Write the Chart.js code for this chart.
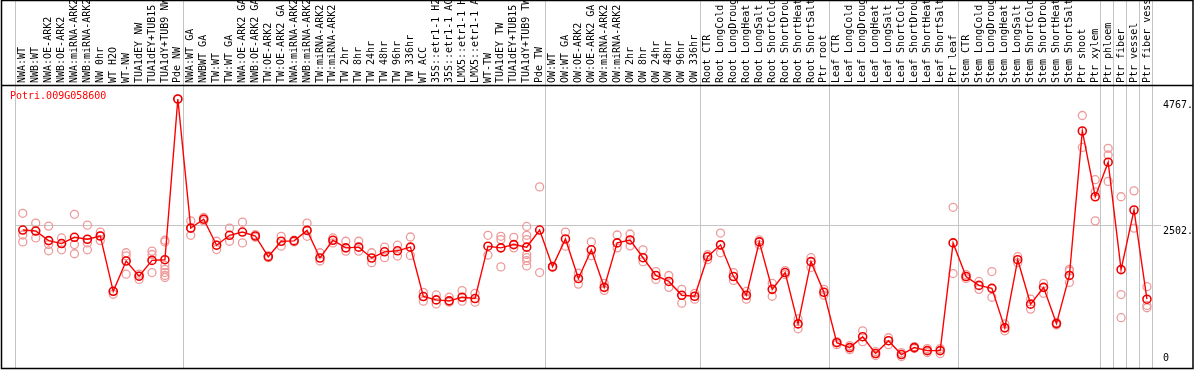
<!DOCTYPE html>
<html>
<head>
<meta charset="utf-8">
<script src="https://cdn.jsdelivr.net/npm/chart.js@4"></script>
<style>
  body { margin: 0; background: #fff; }
  canvas { display: block; }
</style>
</head>
<body>
<canvas id="chart" width="1194" height="370"></canvas>
<script>
// Sample names (x axis)
const categories = [
  'NWA:WT', 'NWB:WT', 'NWA:OE-ARK2', 'NWB:OE-ARK2', 'NWA:miRNA-ARK2', 'NWB:miRNA-ARK2',
  'NW 0hr', 'WT H2O', 'WT-NW', 'TUA1dEY NW', 'TUA1dEY+TUB15', 'TUA1dY+TUB9 NW', 'Pde NW',
  'NWA:WT GA', 'NWBWT GA', 'TW:WT', 'TW:WT GA', 'NWA:OE-ARK2 GA', 'NWB:OE-ARK2 GA',
  'TW:OE-ARK2', 'TW:OE-ARK2 GA', 'NWA:miRNA-ARK2', 'NWB:miRNA-ARK2', 'TW:miRNA-ARK2',
  'TW:miRNA-ARK2', 'TW 2hr', 'TW 8hr', 'TW 24hr', 'TW 48hr', 'TW 96hr', 'TW 336hr',
  'WT ACC', '35S::etr1-1 H2O', '35S::etr1-1 ACC', 'LMX5::etr1-1 H2O', 'LMX5::etr1-1 ACC',
  'WT-TW', 'TUA1dEY TW', 'TUA1dEY+TUB15 TW', 'TUA1dY+TUB9 TW', 'Pde TW',
  'OW:WT', 'OW:WT GA', 'OW:OE-ARK2', 'OW:OE-ARK2 GA', 'OW:miRNA-ARK2', 'OW:miRNA-ARK2',
  'OW 2hr', 'OW 8hr', 'OW 24hr', 'OW 48hr', 'OW 96hr', 'OW 336hr',
  'Root CTR', 'Root LongCold', 'Root LongDrought', 'Root LongHeat', 'Root LongSalt',
  'Root ShortCold', 'Root ShortDrought', 'Root ShortHeat', 'Root ShortSalt', 'Ptr root',
  'Leaf CTR', 'Leaf LongCold', 'Leaf LongDrought', 'Leaf LongHeat', 'Leaf LongSalt',
  'Leaf ShortCold', 'Leaf ShortDrought', 'Leaf ShortHeat', 'Leaf ShortSalt', 'Ptr leaf',
  'Stem CTR', 'Stem LongCold', 'Stem LongDrought', 'Stem LongHeat', 'Stem LongSalt',
  'Stem ShortCold', 'Stem ShortDrought', 'Stem ShortHeat', 'Stem ShortSalt',
  'Ptr shoot', 'Ptr xylem', 'Ptr phloem', 'Ptr fiber', 'Ptr vessel', 'Ptr fiber vessel'
];

// Mean expression per sample
const means = [
  2413, 2395, 2223, 2170, 2283, 2248, 2306, 1313, 1857, 1584, 1868, 1880, 4767,
  2448, 2608, 2141, 2319, 2377, 2306, 1934, 2212, 2218, 2407, 1911, 2230,
  2093, 2106, 1911, 2022, 2040, 2106,
  1219, 1158, 1141, 1206, 1183, 2123, 2093, 2152, 2106, 2413,
  1756, 2253, 1543, 2058, 1384, 2182, 2235, 1916, 1597, 1490, 1242, 1224,
  1934, 2147, 1579, 1242, 2200, 1348, 1650, 727, 1845, 1295,
  390, 302, 497, 195, 426, 177, 302, 248, 248, 2182,
  1579, 1419, 1366, 656, 1880, 1082, 1384, 733, 1597,
  4192, 3011, 3631, 1703, 2773, 1171
];

// Individual replicates per sample
const replicates = [
  [2714, 2324, 2200], [2537, 2395, 2271], [2484, 2152, 2040], [2271, 2170, 2058],
  [2696, 2152, 1987], [2501, 2182, 2058], [2377, 2306, 2223], [1313, 1260],
  [2005, 1950, 1620], [1620, 1584, 1526], [2035, 1974, 1650],
  [2230, 2200, 1774, 1708, 1650, 1597, 1561], [4767, 4760],
  [2578, 2448, 2319], [2638, 2608, 2578], [2212, 2141, 2063], [2448, 2212],
  [2555, 2182], [2330, 2283], [1952, 1916], [2301, 2123], [2230, 2200],
  [2537, 2407, 2301], [2005, 1857], [2271, 2182],
  [2212, 2035], [2212, 2035], [2005, 1827], [2106, 1916], [2141, 1946], [2288, 1957],
  [1295, 1135], [1247, 1087], [1206, 1118], [1325, 1135], [1277, 1118],
  [2319, 1964], [2301, 2241, 1751], [2283, 2093],
  [2478, 2319, 2241, 1974, 1916, 1863, 1769], [3188, 1650],
  [1756, 1740], [2377, 2123], [1637, 1442], [2200, 1950], [1455, 1330],
  [2324, 2093], [2342, 2129], [2058, 1845], [1668, 1526], [1597, 1384],
  [1348, 1100], [1277, 1171],
  [1969, 1880], [2359, 2005], [1650, 1508], [1313, 1171], [2235, 2147],
  [1455, 1224], [1685, 1614], [816, 639], [1916, 1739], [1348, 1242],
  [408, 355], [337, 266], [603, 408], [231, 160], [479, 355], [213, 142],
  [319, 284], [284, 213], [284, 195], [2821, 1632],
  [1614, 1543], [1490, 1348], [1668, 1206], [727, 603], [1934, 1827],
  [1171, 993], [1455, 1277], [750, 710], [1708, 1680, 1472],
  [4470, 3897], [3317, 3099, 2578], [3880, 3761, 3287], [3011, 1254, 839],
  [3117, 2448], [1396, 1059, 1017]
];

// Right-hand tick values
const yTicks = [4767, 2502, 0];
// Group separators come after these sample indices
const groupEnds = [-1, 12, 40, 52, 62, 72, 83, 84, 85, 86, 87];
const geneName = 'Potri.009G058600';

const FONT = '10px "DejaVu Sans Mono", monospace';

const replicatePoints = replicates.flatMap((vals, i) => vals.map(v => ({ x: i, y: v })));
const meanPoints = means.map((v, i) => ({ x: i, y: v }));

// Frame, separators, labels
const decorations = {
    id: 'decorations',
    beforeDatasetsDraw(chart) {
        const { ctx, scales: { x, y } } = chart;
        ctx.save();
        ctx.fillStyle = '#fff';
        ctx.strokeStyle = '#c4c4c4';
        ctx.lineWidth = 1;

        // vertical group separators, full height
        groupEnds.forEach(i => {
            const px = Math.round(x.getPixelForValue(i + 0.4)) + 0.5;
            ctx.beginPath();
            ctx.moveTo(px, 0);
            ctx.lineTo(px, 368);
            ctx.stroke();
        });

        // middle horizontal line
        const gy = Math.round(y.getPixelForValue(yTicks[1])) + 0.5;
        ctx.beginPath();
        ctx.moveTo(x.getPixelForValue(-0.6), gy);
        ctx.lineTo(1161, gy);
        ctx.stroke();

        // sample names, rotated
        ctx.fillStyle = '#000';
        ctx.font = FONT;
        ctx.textAlign = 'left';
        ctx.textBaseline = 'middle';
        ctx.beginPath();
        ctx.rect(0, 1, 1194, 84);
        ctx.clip();
        categories.forEach((name, i) => {
            ctx.save();
            ctx.translate(x.getPixelForValue(i), 83);
            ctx.rotate(-Math.PI / 2);
            ctx.fillText(name, 0, 0);
            ctx.restore();
        });
        ctx.restore();
    },
    afterDraw(chart) {
        const { ctx, scales: { y } } = chart;
        ctx.save();
        ctx.strokeStyle = '#000';
        ctx.lineWidth = 1.5;
        ctx.strokeRect(1.5, 0.5, 1191.5, 368);
        ctx.beginPath();
        ctx.moveTo(1, 85.5);
        ctx.lineTo(1193, 85.5);
        ctx.stroke();

        ctx.font = FONT;
        ctx.fillStyle = '#000';
        ctx.textAlign = 'left';
        yTicks.forEach(v => {
            const py = y.getPixelForValue(v);
            if (v === 0) {
                ctx.textBaseline = 'bottom';
                ctx.fillText('0', 1163, py - 1);
            } else {
                ctx.textBaseline = 'top';
                ctx.fillText(v + '.', 1163, py + 1);
            }
        });

        ctx.fillStyle = '#ff0000';
        ctx.textBaseline = 'top';
        ctx.fillText(geneName, 10, 91);
        ctx.restore();
    }
};

new Chart(document.getElementById('chart'), {
    type: 'line',
    data: {
        datasets: [
            {
                label: 'replicates',
                type: 'scatter',
                data: replicatePoints,
                showLine: false,
                pointStyle: 'circle',
                pointRadius: 4,
                pointBorderWidth: 1.3,
                pointBorderColor: '#ee9a9a',
                pointBackgroundColor: 'rgba(0,0,0,0)',
                order: 2
            },
            {
                label: 'mean',
                data: meanPoints,
                borderColor: '#ff0000',
                borderWidth: 1.4,
                tension: 0,
                pointRadius: 4,
                pointBorderWidth: 1.6,
                pointBorderColor: '#ee0000',
                pointBackgroundColor: 'rgba(0,0,0,0)',
                order: 1
            }
        ]
    },
    options: {
        responsive: false,
        animation: false,
        devicePixelRatio: 1,
        layout: { padding: { top: 86, bottom: 2, left: 2, right: 2 } },
        plugins: { legend: { display: false }, tooltip: { enabled: false } },
        scales: {
            x: { type: 'linear', min: -1.33, max: 90.21, display: false },
            y: { min: 0, max: 5000, display: false }
        }
    },
    plugins: [decorations]
});
</script>
</body>
</html>
